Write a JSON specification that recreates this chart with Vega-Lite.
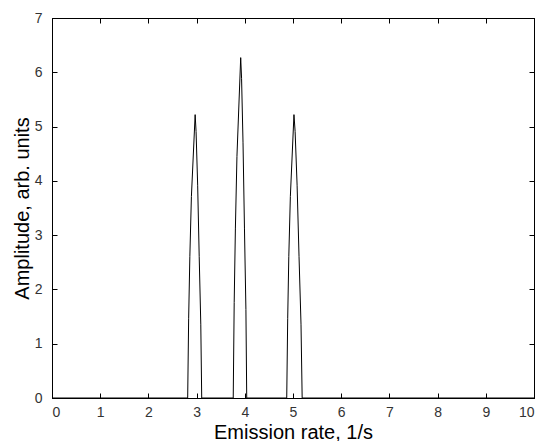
{
  "$schema": "https://vega.github.io/schema/vega-lite/v6.json",
  "width": 482,
  "height": 380,
  "autosize": "none",
  "padding": {"left": 52, "top": 18, "right": 8, "bottom": 43},
  "background": "white",
  "config": {
    "view": {"stroke": "black", "strokeWidth": 1},
    "font": "Liberation Sans",
    "axis": {
      "grid": false,
      "domainColor": "black",
      "tickColor": "black",
      "labelColor": "#333",
      "labelFont": "Liberation Sans",
      "labelFontSize": 14,
      "titleFont": "Liberation Sans",
      "titleFontSize": 20,
      "titleFontWeight": "normal",
      "titleColor": "black",
      "tickSize": -5
    }
  },
  "data": {
    "values": [
      {"rate": 0, "amp": 0},
      {"rate": 2.815, "amp": 0},
      {"rate": 2.835, "amp": 1.46},
      {"rate": 2.86, "amp": 2.61},
      {"rate": 2.892, "amp": 3.71},
      {"rate": 2.97, "amp": 5.22},
      {"rate": 2.989, "amp": 4.91},
      {"rate": 3.022, "amp": 3.92},
      {"rate": 3.054, "amp": 2.61},
      {"rate": 3.087, "amp": 1.36},
      {"rate": 3.106, "amp": 0},
      {"rate": 3.76, "amp": 0},
      {"rate": 3.78, "amp": 1.76},
      {"rate": 3.805, "amp": 3.13},
      {"rate": 3.837, "amp": 4.45},
      {"rate": 3.915, "amp": 6.27},
      {"rate": 3.933, "amp": 5.89},
      {"rate": 3.963, "amp": 4.7},
      {"rate": 3.993, "amp": 3.13},
      {"rate": 4.023, "amp": 1.63},
      {"rate": 4.04, "amp": 0},
      {"rate": 4.87, "amp": 0},
      {"rate": 4.89, "amp": 1.46},
      {"rate": 4.913, "amp": 2.61},
      {"rate": 4.945, "amp": 3.71},
      {"rate": 5.02, "amp": 5.22},
      {"rate": 5.044, "amp": 4.91},
      {"rate": 5.085, "amp": 3.92},
      {"rate": 5.125, "amp": 2.61},
      {"rate": 5.166, "amp": 1.36},
      {"rate": 5.19, "amp": 0},
      {"rate": 10, "amp": 0}
    ]
  },
  "layer": [
    {
      "mark": {"type": "line", "color": "black", "strokeWidth": 1, "clip": true},
      "encoding": {
        "x": {
          "field": "rate", "type": "quantitative",
          "scale": {"domain": [0, 10], "nice": false, "zero": false},
          "axis": {"orient": "bottom", "values": [0,1,2,3,4,5,6,7,8,9,10], "title": "Emission rate, 1/s", "labelPadding": 12, "titlePadding": 3}
        },
        "y": {
          "field": "amp", "type": "quantitative",
          "scale": {"domain": [0, 7], "nice": false},
          "axis": {"orient": "left", "values": [0,1,2,3,4,5,6,7], "title": "Amplitude, arb. units", "labelPadding": 15, "titlePadding": 2}
        },
        "order": {"field": "rate", "type": "quantitative"}
      }
    },
    {
      "mark": {"type": "line", "color": "black", "strokeWidth": 1, "opacity": 0},
      "encoding": {
        "x": {
          "field": "rate", "type": "quantitative",
          "scale": {"domain": [0, 10], "nice": false, "zero": false},
          "axis": {"orient": "top", "values": [0,1,2,3,4,5,6,7,8,9,10], "labels": false, "title": null}
        },
        "y": {
          "field": "amp", "type": "quantitative",
          "scale": {"domain": [0, 7], "nice": false},
          "axis": {"orient": "right", "values": [0,1,2,3,4,5,6,7], "labels": false, "title": null}
        }
      }
    }
  ],
  "resolve": {"axis": {"x": "independent", "y": "independent"}}
}
